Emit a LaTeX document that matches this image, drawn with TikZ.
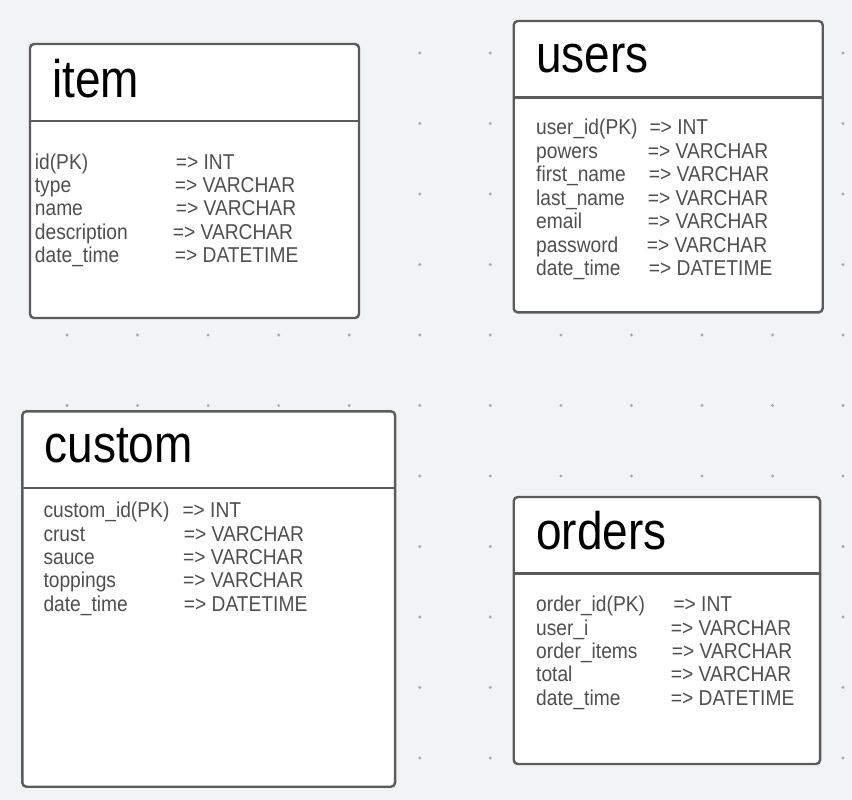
\documentclass[tikz,border=0pt]{standalone}
\usepackage{fontspec}
\setmainfont{Liberation Sans}
\definecolor{canvas}{HTML}{F2F3F5}
\definecolor{dotgray}{HTML}{A4A8AD}
\definecolor{boxgray}{HTML}{5B5B5B}
\definecolor{fieldgray}{HTML}{4F4F4F}
\begin{document}
\begin{tikzpicture}[x=1pt,y=-1pt]
\def \rowgap {23.4}
   \tikzset{TableBox/.style = {draw=boxgray, fill=white, line width=2.4pt, rounded corners=4pt, inner sep=0pt}}
   \tikzset{RuleLine/.style = {draw=boxgray, line width=2.4pt}}
   \tikzset{TitleStyle/.style = {anchor=base west, inner sep=0pt, font=\fontsize{46}{46}\selectfont, yscale=1.15}}
   \tikzset{FieldStyle/.style = {anchor=base west, inner sep=0pt, text=fieldgray, font=\fontsize{19.2}{23}\selectfont, yscale=1.12}}

% canvas and dot grid
   \fill[canvas] (0,0) rectangle (852,800);
   \useasboundingbox (0,0) rectangle (852,800);
   \foreach \i in {0,...,11}
      \foreach \j in {0,...,10}
         \fill[dotgray] (67+70.55*\i, 53+70.5*\j) circle (1.6pt);

% tables
   \node[TableBox, minimum width=329pt, minimum height=274pt] (item) at (194.5,181) {};
   \node[TableBox, minimum width=309pt, minimum height=291.3pt] (users) at (668.2,166.7) {};
   \node[TableBox, minimum width=372.7pt, minimum height=375.4pt] (custom) at (208.7,599) {};
   \node[TableBox, minimum width=306.3pt, minimum height=267pt] (orders) at (666.9,630.5) {};

   \draw[RuleLine] ([yshift=-78pt]item.north west) -- ([yshift=-78pt]item.north east);
   \draw[RuleLine] ([yshift=-77.7pt]users.north west) -- ([yshift=-77.7pt]users.north east);
   \draw[RuleLine] ([yshift=-77.7pt]custom.north west) -- ([yshift=-77.7pt]custom.north east);
   \draw[RuleLine] ([yshift=-77.7pt]orders.north west) -- ([yshift=-77.7pt]orders.north east);

% item
   \node[TitleStyle] (itemT) at (52,97) {item};
   \node[FieldStyle] (itemA1) at (34.7,169) {id(PK)};
   \node[FieldStyle] (itemB1) at (175.7,169) {=> INT};
   \node[FieldStyle] (itemA2) at (34.7,169+\rowgap) {type};
   \node[FieldStyle] (itemB2) at (174.7,169+\rowgap) {=> VARCHAR};
   \node[FieldStyle] (itemA3) at (34.7,169+2*\rowgap) {name};
   \node[FieldStyle] (itemB3) at (175.7,169+2*\rowgap) {=> VARCHAR};
   \node[FieldStyle] (itemA4) at (34.7,169+3*\rowgap) {description};
   \node[FieldStyle] (itemB4) at (172.7,169+3*\rowgap) {=> VARCHAR};
   \node[FieldStyle] (itemA5) at (34.7,169+4*\rowgap) {date\_time};
   \node[FieldStyle] (itemB5) at (174.7,169+4*\rowgap) {=> DATETIME};

% users
   \node[TitleStyle] (usersT) at (536,73) {users};
   \node[FieldStyle] (usersA1) at (536,135) {user\_id(PK)};
   \node[FieldStyle] (usersB1) at (649.3,135) {=> INT};
   \node[FieldStyle] (usersA2) at (536,135+\rowgap) {powers};
   \node[FieldStyle] (usersB2) at (647.7,135+\rowgap) {=> VARCHAR};
   \node[FieldStyle] (usersA3) at (536,135+2*\rowgap) {first\_name};
   \node[FieldStyle] (usersB3) at (648.7,135+2*\rowgap) {=> VARCHAR};
   \node[FieldStyle] (usersA4) at (536,135+3*\rowgap) {last\_name};
   \node[FieldStyle] (usersB4) at (647.7,135+3*\rowgap) {=> VARCHAR};
   \node[FieldStyle] (usersA5) at (536,135+4*\rowgap) {email};
   \node[FieldStyle] (usersB5) at (647.7,135+4*\rowgap) {=> VARCHAR};
   \node[FieldStyle] (usersA6) at (536,135+5*\rowgap) {password};
   \node[FieldStyle] (usersB6) at (646.7,135+5*\rowgap) {=> VARCHAR};
   \node[FieldStyle] (usersA7) at (536,135+6*\rowgap) {date\_time};
   \node[FieldStyle] (usersB7) at (648.7,135+6*\rowgap) {=> DATETIME};

% custom
   \node[TitleStyle] (customT) at (44.3,462.7) {custom};
   \node[FieldStyle] (customA1) at (43.3,517.7) {custom\_id(PK)};
   \node[FieldStyle] (customB1) at (182.3,517.7) {=> INT};
   \node[FieldStyle] (customA2) at (43.3,517.7+\rowgap) {crust};
   \node[FieldStyle] (customB2) at (183.7,517.7+\rowgap) {=> VARCHAR};
   \node[FieldStyle] (customA3) at (43.3,517.7+2*\rowgap) {sauce};
   \node[FieldStyle] (customB3) at (183,517.7+2*\rowgap) {=> VARCHAR};
   \node[FieldStyle] (customA4) at (43.3,517.7+3*\rowgap) {toppings};
   \node[FieldStyle] (customB4) at (183,517.7+3*\rowgap) {=> VARCHAR};
   \node[FieldStyle] (customA5) at (43.3,517.7+4*\rowgap) {date\_time};
   \node[FieldStyle] (customB5) at (183.7,517.7+4*\rowgap) {=> DATETIME};

% orders
   \node[TitleStyle] (ordersT) at (536,549.3) {orders};
   \node[FieldStyle] (ordersA1) at (536,611.7) {order\_id(PK)};
   \node[FieldStyle] (ordersB1) at (673.3,611.7) {=> INT};
   \node[FieldStyle] (ordersA2) at (536,611.7+\rowgap) {user\_i};
   \node[FieldStyle] (ordersB2) at (670.7,611.7+\rowgap) {=> VARCHAR};
   \node[FieldStyle] (ordersA3) at (536,611.7+2*\rowgap) {order\_items};
   \node[FieldStyle] (ordersB3) at (671.7,611.7+2*\rowgap) {=> VARCHAR};
   \node[FieldStyle] (ordersA4) at (536,611.7+3*\rowgap) {total};
   \node[FieldStyle] (ordersB4) at (670.7,611.7+3*\rowgap) {=> VARCHAR};
   \node[FieldStyle] (ordersA5) at (536,611.7+4*\rowgap) {date\_time};
   \node[FieldStyle] (ordersB5) at (670.7,611.7+4*\rowgap) {=> DATETIME};
\end{tikzpicture}
\end{document}
